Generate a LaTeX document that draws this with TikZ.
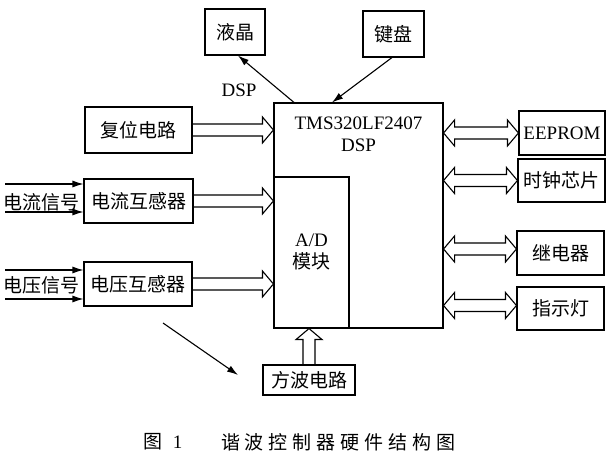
\documentclass[tikz,border=0pt]{standalone}
\usepackage{fontspec}
\setmainfont{Liberation Serif}
\newfontfamily\cjk{Noto Sans CJK SC}
\usetikzlibrary{calc,arrows.meta}

% hollow bus arrow, head at #2
\newcommand{\bus}[2]{%
  \draw[bus] let \p1=($(#2)-(#1)$), \n1={veclen(\x1,\y1)}, \n2={atan2(\y1,\x1)} in
    [shift={(#1)}, rotate=\n2] (0pt,6pt) -- (\n1-11pt,6pt) -- (\n1-11pt,13pt) -- (\n1,0pt)
    -- (\n1-11pt,-13pt) -- (\n1-11pt,-6pt) -- (0pt,-6pt);}
% hollow bus arrow, heads at both ends
\newcommand{\bibus}[2]{%
  \draw[bus] let \p1=($(#2)-(#1)$), \n1={veclen(\x1,\y1)}, \n2={atan2(\y1,\x1)} in
    [shift={(#1)}, rotate=\n2] (11pt,6pt) -- (\n1-11pt,6pt) -- (\n1-11pt,13pt) -- (\n1,0pt)
    -- (\n1-11pt,-13pt) -- (\n1-11pt,-6pt) -- (11pt,-6pt) -- (11pt,-13pt) -- (0pt,0pt)
    -- (11pt,13pt) -- cycle;}
\newcommand{\cgap}{\hskip 5pt}

\begin{document}
\begin{tikzpicture}[x=1pt, y=-1pt, line width=1.1pt,
		font=\fontsize{19}{22}\selectfont,
		block/.style={rectangle, draw=black, line width=1.1pt, inner sep=1pt},
		cn/.style={font=\cjk\fontsize{19}{22}\selectfont},
		bus/.style={draw=black, line width=1.1pt, line join=miter},
		sig/.style={-{Latex[length=11pt,width=7pt]}, line width=1.1pt}]
		\useasboundingbox (0,0) rectangle (611,454);
		\node[block, cn, minimum width=60pt, minimum height=46pt] (lcd) at (235,32) {液晶};
		\node[block, cn, minimum width=61pt, minimum height=46pt] (kbd) at (393.5,34) {键盘};
		\node[block, minimum width=169pt, minimum height=225pt] (dsp) at (358.5,215.5) {};
		\node[align=center] (dsptxt) at (358.5,134) {TMS320LF2407\\DSP};
		\node (dsplbl) at (239,90) {DSP};
		\node[block, minimum width=75pt, minimum height=151pt, align=center] (ad) at (311.5,252.5) {A/D\\{\cjk 模块}};
		\node[block, cn, minimum width=107pt, minimum height=46pt] (reset) at (138.5,130) {复位电路};
		\node[block, cn, minimum width=109pt, minimum height=44pt] (ct) at (138.5,201) {电流互感器};
		\node[block, cn, minimum width=108pt, minimum height=44pt] (vt) at (138,284) {电压互感器};
		\node[cn] (ci) at (42,202) {电流信号};
		\node[cn] (vi) at (42,285) {电压信号};
		\node[block, cn, minimum width=92pt, minimum height=30pt] (sq) at (309,380) {方波电路};
		\node[block, minimum width=86pt, minimum height=44pt] (eeprom) at (562,133) {EEPROM};
		\node[block, cn, minimum width=87pt, minimum height=43pt] (clk) at (561.5,180.5) {时钟芯片};
		\node[block, cn, minimum width=87pt, minimum height=44pt] (relay) at (560.5,253) {继电器};
		\node[block, cn, minimum width=87pt, minimum height=43pt] (led) at (560.5,308.5) {指示灯};
		\node (fig) at (163,442) {{\cjk 图}\hskip 10pt 1};
		\node[cn] (title) at (338.5,442) {谐\cgap 波\cgap 控\cgap 制\cgap 器\cgap 硬\cgap 件\cgap 结\cgap 构\cgap 图};

		\coordinate (ci1) at (5,184);
		\coordinate (ci2) at (5,212);
		\coordinate (vi1) at (5,270);
		\coordinate (vi2) at (5,299);
		\coordinate (s1) at (163,323);
		\coordinate (s2) at (238,375);

		\draw[sig] ([xshift=-64.5pt]dsp.north) -- ([xshift=3pt]lcd.south);
		\draw[sig] ([xshift=-1.5pt]kbd.south) -- ([xshift=-26.5pt]dsp.north);
		\draw[sig] (ci1) -- (ci1 -| ct.west);
		\draw[sig] (ci2) -- (ci2 -| ct.west);
		\draw[sig] (vi1) -- (vi1 -| vt.west);
		\draw[sig] (vi2) -- (vi2 -| vt.west);
		\draw[sig] (s1) -- (s2);

		\bus{reset.east}{reset.east -| dsp.west}
		\bus{ct.east}{ct.east -| dsp.west}
		\bus{vt.east}{vt.east -| dsp.west}
		\bus{sq.north}{sq.north |- dsp.south}
		\bibus{eeprom.west -| dsp.east}{eeprom.west}
		\bibus{clk.west -| dsp.east}{clk.west}
		\bibus{[yshift=4pt]relay.west -| dsp.east}{[yshift=4pt]relay.west}
		\bibus{[yshift=3pt]led.west -| dsp.east}{[yshift=3pt]led.west}

	\end{tikzpicture}
\end{document}
